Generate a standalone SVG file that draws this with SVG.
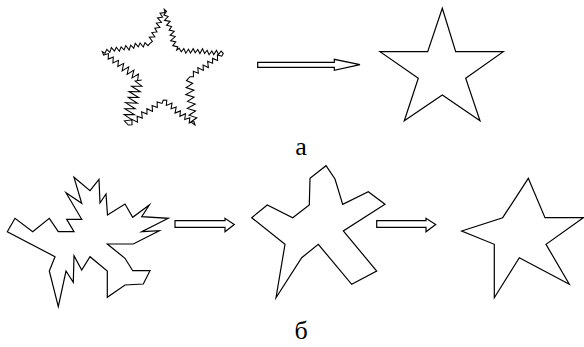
<svg xmlns="http://www.w3.org/2000/svg" width="584" height="347" viewBox="0 0 584 347">
<style>
.shape{fill:none;stroke:#000;stroke-width:1.2;stroke-linejoin:miter;stroke-miterlimit:10}
.rough{fill:none;stroke:#000;stroke-width:1.05;stroke-linejoin:miter;stroke-miterlimit:10}
.arrow{fill:#fff;stroke:#000;stroke-width:1.2}
.lbl{font-family:"Liberation Serif","DejaVu Serif",serif;font-size:26px;fill:#000;text-anchor:middle}
</style>
<rect width="584" height="347" fill="#fff"/>
<g id="rough-star">
<polygon class="rough" points="164.3,9.3 165.1,12.5 160,13.2 162.6,17.2 157.5,17.9 161.5,22.4 156.3,23.1 159.9,27.4 154.8,28.2 157,31.9 151.8,32.6 154.9,36.8 149.3,37.3 152.4,41.5 150,43.3 148,45.7 145,42.7 143.3,47 140.1,43 138.3,46.9 135.3,43.4 133.7,48.2 130.7,45.2 129.1,50 125.8,45.5 124.1,49.9 121.1,46.9 119.4,51.2 116.3,47.2 114.5,51.1 111.4,47.6 109.8,52.4 106.8,49.4 105,53.3 102.3,51.7 103.6,55.1 108.4,53.6 108.2,59.1 113.3,57.1 112.9,63 118.5,60.3 117.8,66.5 123.7,63.4 122.1,70.9 128.7,66.9 127.1,74.4 133.9,70.1 132,78 138.5,74 137.5,80.7 141.7,80 135.1,81.1 141.9,86.2 131.5,86.2 140.3,91.8 128.9,91.5 138.6,97.5 128.2,97.4 137.4,103.2 125.5,102.7 135.2,108.7 124.8,108.7 134.5,114.6 124.1,114.6 131.9,119.9 124.4,120.8 128.3,125 132,124.8 131.9,119.4 137.5,122.1 137.1,116.2 142.3,118.1 141.6,111.8 147,114.1 146.9,108.7 152.5,111.4 152.1,105.5 157.3,107.4 157.1,101.9 162,103.4 163.3,100 166.8,100.2 166.3,105.5 172,103 171.1,108.7 176.2,107 175,113.1 180.4,110.9 179.9,116.3 185.5,113.7 184.7,119.4 189.8,117.7 189.2,123 194,121.6 195,125 190.7,122 196.8,117.8 189,115.2 195.6,111 187.3,108.4 195.3,104 187.5,101.4 194.1,97.2 185.8,94.6 193.9,90.2 186.1,87.6 192.7,83.4 186.4,80.6 190,76.7 193.5,76.7 193.3,71.3 198.3,73.3 197.8,67.6 203.3,70.4 203.1,65 208.4,67.5 207.6,61.3 212.6,63.3 212.6,58.4 217.6,60.4 217.4,55 221.8,56.2 223.3,53.3 221.1,51.1 218.5,54.5 216.5,50.3 213.8,54.6 211.8,51 209.1,54.8 207.1,50.2 204.6,53.5 202.5,48.8 199.9,53.6 197.8,49.5 195.2,52.8 193.2,48.7 190.5,53 188.5,49.3 185.8,53.2 183.8,48.5 181.3,51.8 179.2,48.2 176.7,50 177.8,46.9 172.8,45.6 175.8,41.9 170.7,40.7 175.2,36.6 170.1,35.3 174.2,31.3 169.1,30.1 171.6,26.5 166.6,25.3 170.1,21.4 164.5,20.3 168.1,16.5 163.9,15 166.5,11.4"/>
</g>
<g id="clean-star">
<polygon class="shape" points="442.3,8.3 455.7,51.7 503.3,51.7 465.7,78.3 480,120.7 442.3,95 404.3,120.7 418.3,78.3 380,51.7 427.7,51.7"/>
</g>
<g id="rough-polygon">
<polygon class="shape" points="74,177.3 90,190.7 99,179.3 100,203 106,194 107.5,215 125,204 132.7,217.3 149.3,205 141.7,216.7 168.3,218.3 141.7,231.7 159.3,230.7 133.3,244 107.3,244 125,258.3 132.7,270.7 150,270.7 143.3,284 125,285 107.3,297.3 107.3,271 90,256.7 81.7,270 74,255.7 73.3,282.3 66,271 58.3,306.7 49.3,271 55,256.7 7.3,231.7 15,218.3 32.7,231.7 49.3,218.3 58.3,231.7 74,231.7 66.7,219.3 81.7,219.3 66,192.7 81.7,203.3"/>
</g>
<g id="simplified-polygon">
<polygon class="shape" points="326,165.7 335,179 342.7,204.3 368.3,191.7 385,204.3 343.3,231 376.7,271 351.7,284.3 318.3,244.3 301.7,257.7 276,297.7 285,244.3 251.7,217.7 267.3,205 292.7,217.7 309.3,205 310,178.3"/>
</g>
<g id="final-star">
<polygon class="shape" points="528.3,178.3 545,217.7 583.3,217.7 546,244.3 569.3,284.3 519.3,257.7 494.3,297.7 494.3,244.3 461.7,231 502.7,217.7"/>
</g>
<g id="connectors">
<polygon class="arrow" points="257.7,62.3 334.3,62.3 334.3,59.3 360,64.7 334.3,70.3 334.3,67.3 257.7,67.3"/>
<polygon class="arrow" points="175,220.7 225,220.7 225,218.3 234.3,224.5 225,231.7 225,227.3 175,227.3"/>
<polygon class="arrow" points="376.7,220.7 426,220.7 426,218.3 435.7,224.5 426,231.7 426,227.3 376.7,227.3"/>
</g>
<g id="labels">
<text class="lbl" x="301" y="155">а</text>
<text class="lbl" x="301" y="339">б</text>
</g>
</svg>
